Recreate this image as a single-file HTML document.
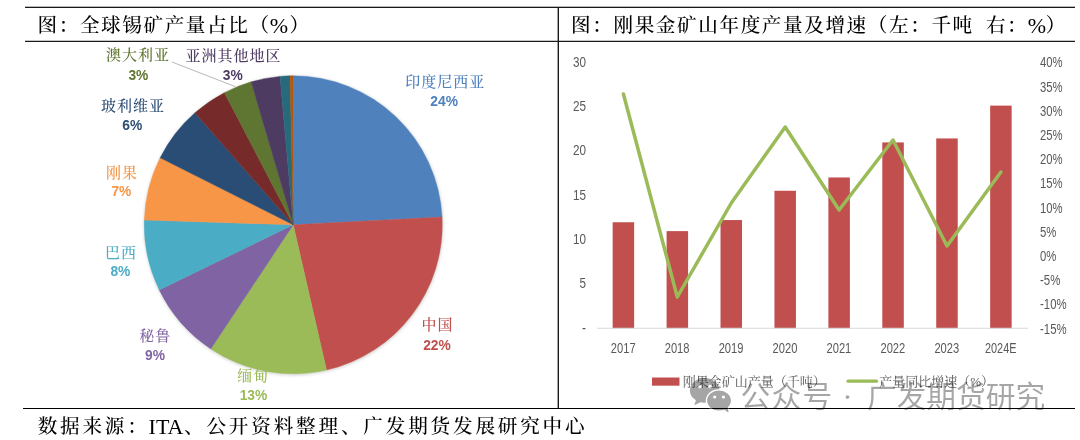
<!DOCTYPE html>
<html lang="zh-CN">
<head>
<meta charset="utf-8">
<title>全球锡矿产量占比</title>
<style>
html,body{margin:0;padding:0;background:#fff;}
body{width:1080px;height:440px;overflow:hidden;position:relative;}
svg{position:absolute;left:0;top:0;display:block;}
text{dominant-baseline:central;white-space:pre;}
.ttl{font-family:"Liberation Serif","Noto Serif CJK SC",serif;font-size:19.6px;font-weight:500;fill:#000;dominant-baseline:alphabetic;}
.pl{font-family:"Liberation Serif","Noto Serif CJK SC",serif;font-size:15px;font-weight:500;text-anchor:middle;letter-spacing:1px;}
.pp{font-family:"Liberation Sans","Noto Sans CJK SC",sans-serif;font-size:13.8px;font-weight:bold;text-anchor:middle;}
.ax{font-family:"Liberation Sans","Noto Sans CJK SC",sans-serif;font-size:14px;fill:#595959;}
.lg{font-family:"Liberation Serif","Noto Serif CJK SC",serif;font-size:13px;fill:#595959;}
.wm{font-family:"Liberation Sans","Noto Sans CJK SC",sans-serif;font-size:29.7px;font-weight:400;fill:#000;fill-opacity:0.35;}
</style>
</head>
<body>
<svg width="1080" height="440" viewBox="0 0 1080 440">
<rect width="1080" height="440" fill="#fff"/>
<!-- table lines -->
<g fill="#1a1a1a">
<rect x="25" y="6.7" width="1050" height="1.3"/>
<rect x="25" y="40.75" width="1050" height="1.25"/>
<rect x="23" y="408" width="1052" height="1" fill="#000"/>
<rect x="557.6" y="7" width="1.4" height="401.5"/>
</g>
<g id="titles">
<text class="ttl" y="31.9"><tspan x="37.50" style="letter-spacing:1.60px">图：全球锡矿产量占比（</tspan><tspan x="269.8" dy="1.4" style="font-size:22px;font-weight:400;letter-spacing:0">%</tspan><tspan x="289.50" dy="-1.4" style="letter-spacing:1.60px">）</tspan></text>
<text class="ttl" y="31.9"><tspan x="571.10" style="letter-spacing:1.60px">图：刚果金矿山年度产量及增速（左：千吨</tspan> <tspan x="985.90" style="letter-spacing:1.60px">右：</tspan><tspan x="1027.8" dy="1.4" style="font-size:22px;font-weight:400;letter-spacing:0">%</tspan><tspan x="1045.70" dy="-1.4" style="letter-spacing:1.60px">）</tspan></text>
<text class="ttl" y="432.8"><tspan x="37.70" style="letter-spacing:2.80px">数据来源：</tspan><tspan x="148.6" dy="1.4" style="font-size:22px;font-weight:400;letter-spacing:0">ITA</tspan><tspan x="184.00" dy="-1.4" style="letter-spacing:2.82px">、公开资料整理、广发期货发展研究中心</tspan></text>
</g>
<defs><filter id="sh" x="-5%" y="-5%" width="110%" height="110%"><feGaussianBlur stdDeviation="1.6"/></filter><filter id="soft" x="-2%" y="-2%" width="104%" height="104%"><feGaussianBlur stdDeviation="0.45"/></filter></defs>
<g id="charts" filter="url(#soft)">
<!-- pie -->
<g id="pie">
<circle cx="293.55" cy="225.60000000000002" r="149.8" fill="#000" fill-opacity="0.16" filter="url(#sh)"/>
<path d="M293.25,224.8L293.25,75.80A149.0,149.0 0 0 1 442.05,217.00Z" fill="#4F81BD" stroke="#4F81BD" stroke-width="0.4"/>
<path d="M293.25,224.8L442.05,217.00A149.0,149.0 0 0 1 326.51,370.04Z" fill="#C0504D" stroke="#C0504D" stroke-width="0.4"/>
<path d="M293.25,224.8L326.51,370.04A149.0,149.0 0 0 1 210.79,348.91Z" fill="#9BBB59" stroke="#9BBB59" stroke-width="0.4"/>
<path d="M293.25,224.8L210.79,348.91A149.0,149.0 0 0 1 159.22,289.88Z" fill="#8064A2" stroke="#8064A2" stroke-width="0.4"/>
<path d="M293.25,224.8L159.22,289.88A149.0,149.0 0 0 1 144.32,220.12Z" fill="#4BACC6" stroke="#4BACC6" stroke-width="0.4"/>
<path d="M293.25,224.8L144.32,220.12A149.0,149.0 0 0 1 160.14,157.85Z" fill="#F79646" stroke="#F79646" stroke-width="0.4"/>
<path d="M293.25,224.8L160.14,157.85A149.0,149.0 0 0 1 194.91,112.86Z" fill="#2C4D75" stroke="#2C4D75" stroke-width="0.4"/>
<path d="M293.25,224.8L194.91,112.86A149.0,149.0 0 0 1 224.45,92.64Z" fill="#772C2A" stroke="#772C2A" stroke-width="0.4"/>
<path d="M293.25,224.8L224.45,92.64A149.0,149.0 0 0 1 251.18,81.86Z" fill="#5F7530" stroke="#5F7530" stroke-width="0.4"/>
<path d="M293.25,224.8L251.18,81.86A149.0,149.0 0 0 1 280.00,76.39Z" fill="#4D3B62" stroke="#4D3B62" stroke-width="0.4"/>
<path d="M293.25,224.8L280.00,76.39A149.0,149.0 0 0 1 290.13,75.83Z" fill="#276A7C" stroke="#276A7C" stroke-width="0.4"/>
<path d="M293.25,224.8L290.13,75.83A149.0,149.0 0 0 1 293.25,75.80Z" fill="#B65708" stroke="#B65708" stroke-width="0.4"/>
</g>
<line x1="172" y1="62" x2="235" y2="86.5" stroke="#a6a6a6" stroke-width="0.8"/>
<g id="pie-labels">
<text class="pl" x="445.20" y="81.50" fill="#4F81BD">印度尼西亚</text>
<text class="pp" x="444.10" y="101.20" fill="#4F81BD">24%</text>
<text class="pl" x="437.60" y="325.00" fill="#C0504D">中国</text>
<text class="pp" x="437.00" y="345.10" fill="#C0504D">22%</text>
<text class="pl" x="253.20" y="375.90" fill="#9BBB59">缅甸</text>
<text class="pp" x="253.50" y="395.70" fill="#9BBB59">13%</text>
<text class="pl" x="155.20" y="335.70" fill="#8064A2">秘鲁</text>
<text class="pp" x="155.00" y="355.10" fill="#8064A2">9%</text>
<text class="pl" x="120.90" y="252.50" fill="#4BACC6">巴西</text>
<text class="pp" x="120.40" y="271.90" fill="#4BACC6">8%</text>
<text class="pl" x="121.90" y="172.50" fill="#F79646">刚果</text>
<text class="pp" x="121.40" y="191.50" fill="#F79646">7%</text>
<text class="pl" x="132.90" y="105.60" fill="#2C4D75">玻利维亚</text>
<text class="pp" x="132.30" y="125.30" fill="#2C4D75">6%</text>
<text class="pl" x="138.10" y="55.40" fill="#5F7530">澳大利亚</text>
<text class="pp" x="138.40" y="75.05" fill="#5F7530">3%</text>
<text class="pl" x="233.60" y="55.70" fill="#4D3B62">亚洲其他地区</text>
<text class="pp" x="232.70" y="75.00" fill="#4D3B62">3%</text>
</g>
<!-- bar chart -->
<g id="bars">
<rect x="612.65" y="222.25" width="21.5" height="106.00" fill="#C0504D"/>
<rect x="666.58" y="231.12" width="21.5" height="97.13" fill="#C0504D"/>
<rect x="720.51" y="220.04" width="21.5" height="108.21" fill="#C0504D"/>
<rect x="774.44" y="190.76" width="21.5" height="137.49" fill="#C0504D"/>
<rect x="828.37" y="177.46" width="21.5" height="150.79" fill="#C0504D"/>
<rect x="882.30" y="142.42" width="21.5" height="185.83" fill="#C0504D"/>
<rect x="936.23" y="138.43" width="21.5" height="189.82" fill="#C0504D"/>
<rect x="990.16" y="105.61" width="21.5" height="222.64" fill="#C0504D"/>
</g>
<line x1="597" y1="328.25" x2="1028" y2="328.25" stroke="#d9d9d9" stroke-width="1"/>
<path d="M623.4,94.0 L677.3,297.0 L731.3,203.0 L785.2,127.0 L839.1,210.0 L893.0,140.0 L947.0,246.0 L1000.9,172.0" fill="none" stroke="#9BBB59" stroke-width="3.5" stroke-linecap="round" stroke-linejoin="round"/>
<g id="axis-left">
<text class="ax" x="582.00" y="327.75" textLength="4.00" lengthAdjust="spacingAndGlyphs">-</text>
<text class="ax" x="579.50" y="283.40" textLength="6.50" lengthAdjust="spacingAndGlyphs">5</text>
<text class="ax" x="573.00" y="239.05" textLength="13.00" lengthAdjust="spacingAndGlyphs">10</text>
<text class="ax" x="573.00" y="194.70" textLength="13.00" lengthAdjust="spacingAndGlyphs">15</text>
<text class="ax" x="573.00" y="150.35" textLength="13.00" lengthAdjust="spacingAndGlyphs">20</text>
<text class="ax" x="573.00" y="106.00" textLength="13.00" lengthAdjust="spacingAndGlyphs">25</text>
<text class="ax" x="573.00" y="61.65" textLength="13.00" lengthAdjust="spacingAndGlyphs">30</text>
</g>
<g id="axis-right">
<text class="ax" x="1040.00" y="328.55" textLength="26.60" lengthAdjust="spacingAndGlyphs">-15%</text>
<text class="ax" x="1040.00" y="304.36" textLength="26.60" lengthAdjust="spacingAndGlyphs">-10%</text>
<text class="ax" x="1040.00" y="280.17" textLength="20.40" lengthAdjust="spacingAndGlyphs">-5%</text>
<text class="ax" x="1040.00" y="255.98" textLength="16.40" lengthAdjust="spacingAndGlyphs">0%</text>
<text class="ax" x="1040.00" y="231.79" textLength="16.40" lengthAdjust="spacingAndGlyphs">5%</text>
<text class="ax" x="1040.00" y="207.60" textLength="22.60" lengthAdjust="spacingAndGlyphs">10%</text>
<text class="ax" x="1040.00" y="183.41" textLength="22.60" lengthAdjust="spacingAndGlyphs">15%</text>
<text class="ax" x="1040.00" y="159.22" textLength="22.60" lengthAdjust="spacingAndGlyphs">20%</text>
<text class="ax" x="1040.00" y="135.03" textLength="22.60" lengthAdjust="spacingAndGlyphs">25%</text>
<text class="ax" x="1040.00" y="110.84" textLength="22.60" lengthAdjust="spacingAndGlyphs">30%</text>
<text class="ax" x="1040.00" y="86.65" textLength="22.60" lengthAdjust="spacingAndGlyphs">35%</text>
<text class="ax" x="1040.00" y="62.46" textLength="22.60" lengthAdjust="spacingAndGlyphs">40%</text>
</g>
<g id="axis-x">
<text class="ax" x="610.80" y="347.90" textLength="24.80" lengthAdjust="spacingAndGlyphs">2017</text>
<text class="ax" x="664.73" y="347.90" textLength="24.80" lengthAdjust="spacingAndGlyphs">2018</text>
<text class="ax" x="718.66" y="347.90" textLength="24.80" lengthAdjust="spacingAndGlyphs">2019</text>
<text class="ax" x="772.59" y="347.90" textLength="24.80" lengthAdjust="spacingAndGlyphs">2020</text>
<text class="ax" x="826.52" y="347.90" textLength="24.80" lengthAdjust="spacingAndGlyphs">2021</text>
<text class="ax" x="880.45" y="347.90" textLength="24.80" lengthAdjust="spacingAndGlyphs">2022</text>
<text class="ax" x="934.38" y="347.90" textLength="24.80" lengthAdjust="spacingAndGlyphs">2023</text>
<text class="ax" x="984.91" y="347.90" textLength="31.60" lengthAdjust="spacingAndGlyphs">2024E</text>
</g>
<!-- legend -->
<rect x="652" y="377.5" width="27.5" height="8.2" fill="#C0504D"/>
<text class="lg" x="682.7" y="381.2">刚果金矿山产量（千吨）</text>
<line x1="848" y1="381.2" x2="876.5" y2="381.2" stroke="#9BBB59" stroke-width="3.2" stroke-linecap="round"/>
<text class="lg" x="879.2" y="381.2">产量同比增速（%）</text>
</g>
<!-- watermark -->
<g id="wm" opacity="0.35">
<ellipse cx="704.7" cy="390.4" rx="14.8" ry="12.3" fill="#000"/>
<path d="M696.2,399.2L694.2,405.2L702,401.6Z" fill="#000"/>
<path d="M723.5,409.4L728.6,412.8L727.8,406.6Z" fill="#000" stroke="#fff" stroke-width="0.8"/>
<ellipse cx="719" cy="400.6" rx="12.6" ry="10.7" fill="#000" stroke="#fff" stroke-width="1.4"/>
<path d="M723.8,409.2L728.4,412.4L727.6,406.8Z" fill="#000"/>
<circle cx="700" cy="386.6" r="1.8" fill="#fff"/>
<circle cx="710" cy="386.6" r="1.8" fill="#fff"/>
<circle cx="714.7" cy="397" r="1.6" fill="#fff"/>
<circle cx="723.4" cy="397" r="1.6" fill="#fff"/>
</g>
<text class="wm" y="396"><tspan x="740.6" style="letter-spacing:1.3px">公众号</tspan> <tspan x="840.1" dy="-0.3" style="font-family:'Noto Sans CJK SC','Liberation Sans',sans-serif;font-size:15px;font-weight:bold">·</tspan> <tspan x="867" dy="0.3">广发期货研究</tspan></text>
</svg>
</body>
</html>
